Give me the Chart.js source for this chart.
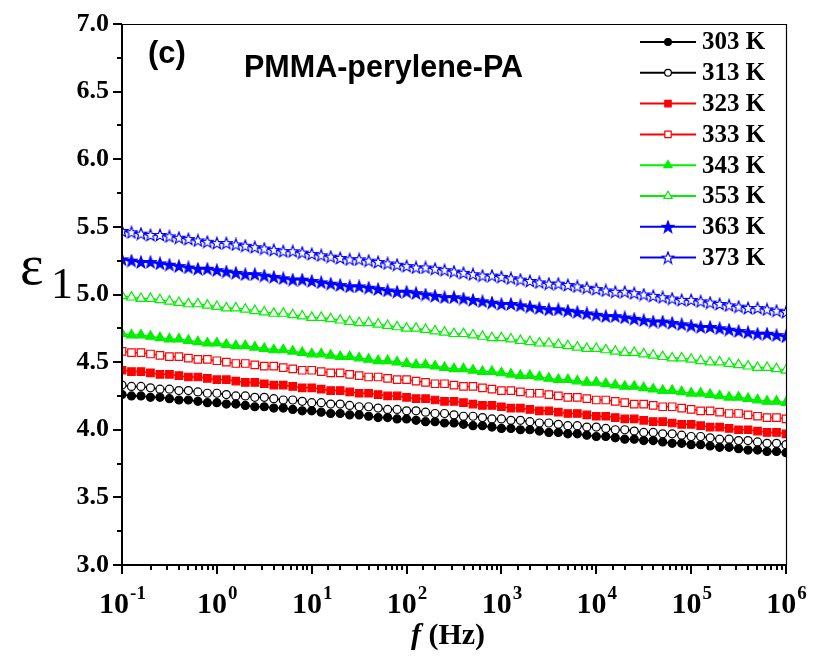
<!DOCTYPE html>
<html>
<head>
<meta charset="utf-8">
<script src="https://cdn.jsdelivr.net/npm/chart.js@4/dist/chart.umd.min.js"></script>
<style>
  html, body { margin: 0; padding: 0; background: #fff; }
  #wrap { width: 813px; height: 657px; }
</style>
</head>
<body>
<div id="wrap"><canvas id="myChart" width="813" height="657"></canvas></div>
<script>
// frequency points (Hz), 10 per decade
const freq = [
    0.1, 0.1259, 0.1585, 0.1995, 0.2512, 0.3162, 0.3981, 0.5012, 0.631, 0.7943,
    1, 1.259, 1.585, 1.995, 2.512, 3.162, 3.981, 5.012, 6.31, 7.943,
    10, 12.59, 15.85, 19.95, 25.12, 31.62, 39.81, 50.12, 63.1, 79.43,
    100, 125.9, 158.5, 199.5, 251.2, 316.2, 398.1, 501.2, 631, 794.3,
    1000, 1259, 1585, 1995, 2512, 3162, 3981, 5012, 6310, 7943,
    1e4, 12590, 15850, 19950, 25120, 31620, 39810, 50120, 63100, 79430,
    1e5, 125900, 158500, 199500, 251200, 316200, 398100, 501200, 631000, 794300,
    1e6
];

const eps303 = [
    4.26, 4.25, 4.25, 4.24, 4.24, 4.23, 4.22, 4.22, 4.21, 4.20,
    4.20, 4.19, 4.19, 4.18, 4.17, 4.17, 4.16, 4.16, 4.15, 4.14,
    4.14, 4.13, 4.12, 4.12, 4.11, 4.11, 4.10, 4.09, 4.09, 4.08,
    4.08, 4.07, 4.06, 4.06, 4.05, 4.05, 4.04, 4.03, 4.03, 4.02,
    4.01, 4.01, 4.00, 4.00, 3.99, 3.98, 3.98, 3.97, 3.97, 3.96,
    3.95, 3.95, 3.94, 3.93, 3.93, 3.92, 3.92, 3.91, 3.90, 3.90,
    3.89, 3.89, 3.88, 3.87, 3.87, 3.86, 3.85, 3.85, 3.84, 3.84,
    3.83
];
const eps313 = [
    4.33, 4.32, 4.32, 4.31, 4.30, 4.30, 4.29, 4.29, 4.28, 4.27,
    4.27, 4.26, 4.25, 4.25, 4.24, 4.24, 4.23, 4.22, 4.22, 4.21,
    4.20, 4.20, 4.19, 4.19, 4.18, 4.17, 4.17, 4.16, 4.15, 4.15,
    4.14, 4.14, 4.13, 4.12, 4.12, 4.11, 4.10, 4.10, 4.09, 4.08,
    4.08, 4.07, 4.07, 4.06, 4.05, 4.05, 4.04, 4.03, 4.03, 4.02,
    4.02, 4.01, 4.00, 4.00, 3.99, 3.98, 3.98, 3.97, 3.97, 3.96,
    3.95, 3.95, 3.94, 3.93, 3.93, 3.92, 3.92, 3.91, 3.90, 3.90,
    3.89
];
const eps323 = [
    4.44, 4.43, 4.43, 4.42, 4.41, 4.41, 4.40, 4.39, 4.39, 4.38,
    4.37, 4.37, 4.36, 4.35, 4.35, 4.34, 4.33, 4.33, 4.32, 4.31,
    4.31, 4.30, 4.29, 4.29, 4.28, 4.27, 4.27, 4.26, 4.25, 4.25,
    4.24, 4.23, 4.23, 4.22, 4.21, 4.21, 4.20, 4.19, 4.18, 4.18,
    4.17, 4.16, 4.16, 4.15, 4.14, 4.14, 4.13, 4.12, 4.12, 4.11,
    4.10, 4.10, 4.09, 4.08, 4.08, 4.07, 4.06, 4.06, 4.05, 4.04,
    4.04, 4.03, 4.02, 4.02, 4.01, 4.00, 4.00, 3.99, 3.98, 3.98,
    3.97
];
const eps333 = [
    4.58, 4.57, 4.57, 4.56, 4.55, 4.54, 4.54, 4.53, 4.52, 4.52,
    4.51, 4.50, 4.49, 4.49, 4.48, 4.47, 4.47, 4.46, 4.45, 4.44,
    4.44, 4.43, 4.42, 4.42, 4.41, 4.40, 4.39, 4.39, 4.38, 4.37,
    4.37, 4.36, 4.35, 4.34, 4.34, 4.33, 4.32, 4.32, 4.31, 4.30,
    4.29, 4.29, 4.28, 4.27, 4.27, 4.26, 4.25, 4.24, 4.24, 4.23,
    4.22, 4.22, 4.21, 4.20, 4.19, 4.19, 4.18, 4.17, 4.17, 4.16,
    4.15, 4.14, 4.14, 4.13, 4.12, 4.12, 4.11, 4.10, 4.09, 4.09,
    4.08
];
const eps343 = [
    4.71, 4.70, 4.70, 4.69, 4.68, 4.67, 4.67, 4.66, 4.65, 4.64,
    4.64, 4.63, 4.62, 4.62, 4.61, 4.60, 4.59, 4.59, 4.58, 4.57,
    4.56, 4.56, 4.55, 4.54, 4.54, 4.53, 4.52, 4.51, 4.51, 4.50,
    4.49, 4.48, 4.48, 4.47, 4.46, 4.45, 4.45, 4.44, 4.43, 4.43,
    4.42, 4.41, 4.40, 4.40, 4.39, 4.38, 4.37, 4.37, 4.36, 4.35,
    4.35, 4.34, 4.33, 4.32, 4.32, 4.31, 4.30, 4.29, 4.29, 4.28,
    4.27, 4.27, 4.26, 4.25, 4.24, 4.24, 4.23, 4.22, 4.21, 4.21,
    4.20
];
const eps353 = [
    4.99, 4.98, 4.97, 4.97, 4.96, 4.95, 4.94, 4.93, 4.93, 4.92,
    4.91, 4.90, 4.90, 4.89, 4.88, 4.87, 4.86, 4.86, 4.85, 4.84,
    4.83, 4.83, 4.82, 4.81, 4.80, 4.79, 4.79, 4.78, 4.77, 4.76,
    4.75, 4.75, 4.74, 4.73, 4.72, 4.71, 4.71, 4.70, 4.69, 4.68,
    4.68, 4.67, 4.66, 4.65, 4.64, 4.64, 4.63, 4.62, 4.61, 4.60,
    4.60, 4.59, 4.58, 4.57, 4.57, 4.56, 4.55, 4.54, 4.53, 4.53,
    4.52, 4.51, 4.50, 4.50, 4.49, 4.48, 4.47, 4.46, 4.46, 4.45,
    4.44
];
const eps363 = [
    5.26, 5.25, 5.24, 5.24, 5.23, 5.22, 5.21, 5.20, 5.19, 5.19,
    5.18, 5.17, 5.16, 5.15, 5.15, 5.14, 5.13, 5.12, 5.11, 5.11,
    5.10, 5.09, 5.08, 5.07, 5.06, 5.06, 5.05, 5.04, 5.03, 5.02,
    5.02, 5.01, 5.00, 4.99, 4.98, 4.98, 4.97, 4.96, 4.95, 4.94,
    4.93, 4.93, 4.92, 4.91, 4.90, 4.89, 4.89, 4.88, 4.87, 4.86,
    4.85, 4.84, 4.84, 4.83, 4.82, 4.81, 4.80, 4.80, 4.79, 4.78,
    4.77, 4.76, 4.76, 4.75, 4.74, 4.73, 4.72, 4.71, 4.71, 4.70,
    4.69
];
const eps373 = [
    5.47, 5.46, 5.45, 5.44, 5.44, 5.43, 5.42, 5.41, 5.40, 5.39,
    5.38, 5.38, 5.37, 5.36, 5.35, 5.34, 5.33, 5.32, 5.32, 5.31,
    5.30, 5.29, 5.28, 5.27, 5.26, 5.26, 5.25, 5.24, 5.23, 5.22,
    5.21, 5.20, 5.20, 5.19, 5.18, 5.17, 5.16, 5.15, 5.14, 5.14,
    5.13, 5.12, 5.11, 5.10, 5.09, 5.08, 5.08, 5.07, 5.06, 5.05,
    5.04, 5.03, 5.02, 5.02, 5.01, 5.00, 4.99, 4.98, 4.97, 4.96,
    4.96, 4.95, 4.94, 4.93, 4.92, 4.91, 4.90, 4.90, 4.89, 4.88,
    4.87
];

const seriesNames = ['303 K', '313 K', '323 K', '333 K', '343 K', '353 K', '363 K', '373 K'];
const seriesValues = [eps303, eps313, eps323, eps333, eps343, eps353, eps363, eps373];
const decades = [-1, 0, 1, 2, 3, 4, 5, 6];

//5-point star markers as small canvases
function makeStar(fill, stroke) {
    let c = document.createElement('canvas');
    c.width = 14;
    c.height = 14;
    let g = c.getContext('2d');
    g.beginPath();
    for (let i = 0; i < 10; i++) {
        let r = i % 2 === 0 ? 6.2 : 2.6;
        let a = -Math.PI / 2 + i * Math.PI / 5;
        let px = 7 + r * Math.cos(a), py = 7.5 + r * Math.sin(a);
        if (i === 0) g.moveTo(px, py); else g.lineTo(px, py);
    }
    g.closePath();
    g.fillStyle = fill;
    g.fill();
    g.lineWidth = 1.2;
    g.strokeStyle = stroke;
    g.stroke();
    return c;
}
const starFilled = makeStar('#0000ff', '#0000ff');
const starOpen = makeStar('#ffffff', '#0000ff');

const styles = [
    {color: '#000000', fill: '#000000', point: 'circle', radius: 4},
    {color: '#000000', fill: '#ffffff', point: 'circle', radius: 4},
    {color: '#ff0000', fill: '#ff0000', point: 'rect', radius: 5.3},
    {color: '#ff0000', fill: '#ffffff', point: 'rect', radius: 5.3},
    {color: '#00f000', fill: '#00f000', point: 'triangle', radius: 5.6},
    {color: '#00f000', fill: '#ffffff', point: 'triangle', radius: 5.6},
    {color: '#0000ff', fill: '#0000ff', point: starFilled, radius: 6},
    {color: '#0000ff', fill: '#ffffff', point: starOpen, radius: 6}
];

//Axes, frame and texts
const decorations = {
    id: 'decorations',
    afterDraw(chart) {
        const {ctx, chartArea: a, scales: {x, y}} = chart;
        ctx.save();
        ctx.strokeStyle = '#000';
        ctx.fillStyle = '#000';
        //frame
        ctx.lineWidth = 1.2;
        ctx.beginPath();
        ctx.moveTo(a.left, a.top + 0.5);
        ctx.lineTo(a.right + 0.5, a.top + 0.5);
        ctx.lineTo(a.right + 0.5, a.bottom);
        ctx.stroke();
        ctx.lineWidth = 2;
        ctx.beginPath();
        ctx.moveTo(a.left, a.top);
        ctx.lineTo(a.left, a.bottom);
        ctx.lineTo(a.right + 1, a.bottom);
        ctx.stroke();
        //y ticks
        y.ticks.forEach(t => {
            let py = Math.round(y.getPixelForValue(t.value));
            let major = Math.abs(t.value * 2 - Math.round(t.value * 2)) < 1e-6;
            ctx.beginPath();
            ctx.moveTo(a.left, py);
            ctx.lineTo(a.left - (major ? 9 : 5), py);
            ctx.stroke();
        });
        //x ticks
        x.ticks.forEach(t => {
            let px = Math.round(x.getPixelForValue(t.value));
            let lg = Math.log10(t.value);
            let major = Math.abs(lg - Math.round(lg)) < 1e-6;
            ctx.beginPath();
            ctx.moveTo(px, a.bottom);
            ctx.lineTo(px, a.bottom + (major ? 9 : 5));
            ctx.stroke();
        });
        //x tick labels 10^n
        ctx.textBaseline = 'alphabetic';
        decades.forEach(e => {
            let px = x.getPixelForValue(Math.pow(10, e));
            ctx.font = 'bold 30px "Liberation Serif"';
            let w1 = ctx.measureText('10').width;
            ctx.font = 'bold 19px "Liberation Serif"';
            let w2 = ctx.measureText(String(e)).width;
            let sx = px - (w1 + w2) / 2;
            ctx.font = 'bold 30px "Liberation Serif"';
            ctx.fillText('10', sx, 613);
            ctx.font = 'bold 19px "Liberation Serif"';
            ctx.fillText(String(e), sx + w1 + 1, 599);
        });
        //x title
        ctx.font = 'italic bold 30px "Liberation Serif"';
        let wf = ctx.measureText('f').width;
        ctx.font = 'bold 30px "Liberation Serif"';
        let wh = ctx.measureText(' (Hz)').width;
        let tx = 448 - (wf + wh) / 2;
        ctx.font = 'italic bold 30px "Liberation Serif"';
        ctx.fillText('f', tx, 644);
        ctx.font = 'bold 30px "Liberation Serif"';
        ctx.fillText(' (Hz)', tx + wf, 644);
        //y title
        ctx.font = '56px "Liberation Serif"';
        ctx.fillText('ε', 20, 284);
        ctx.font = '44px "Liberation Serif"';
        ctx.fillText('1', 51, 298);
        //annotations
        ctx.font = 'bold 31px "Liberation Sans"';
        ctx.fillText('(c)', 148, 63);
        ctx.font = 'bold 30.5px "Liberation Sans"';
        ctx.fillText('PMMA-perylene-PA', 244, 77);
        //legend
        chart.data.datasets.forEach((ds, i) => {
            let ly = 42 + i * 30.8;
            ctx.strokeStyle = ds.borderColor;
            ctx.lineWidth = 2;
            ctx.beginPath();
            ctx.moveTo(640, ly);
            ctx.lineTo(696, ly);
            ctx.stroke();
            drawMarker(ctx, ds, 668, ly);
            ctx.fillStyle = '#000';
            ctx.font = 'bold 25px "Liberation Serif"';
            ctx.textBaseline = 'middle';
            ctx.fillText(ds.label, 702, ly + 1);
        });
        ctx.restore();
    }
};

function drawMarker(ctx, ds, mx, my) {
    let ps = ds.pointStyle;
    if (typeof ps !== 'string') {
        ctx.drawImage(ps, mx - ps.width / 2, my - ps.height / 2);
        return;
    }
    let r = ds.pointRadius * 0.85;
    ctx.fillStyle = ds.pointBackgroundColor;
    ctx.strokeStyle = ds.pointBorderColor;
    ctx.lineWidth = 1.2;
    ctx.beginPath();
    if (ps === 'circle') {
        ctx.arc(mx, my, r, 0, Math.PI * 2);
    } else if (ps === 'rect') {
        let s = r * Math.SQRT1_2;
        ctx.rect(mx - s, my - s, 2 * s, 2 * s);
    } else {
        ctx.moveTo(mx, my - r);
        ctx.lineTo(mx + r * 0.87, my + r * 0.5);
        ctx.lineTo(mx - r * 0.87, my + r * 0.5);
        ctx.closePath();
    }
    ctx.fill();
    ctx.stroke();
}

function loadChart() {
    let ctx = document.getElementById('myChart');
    let datasets = seriesValues.map((vals, i) => {
        return {
            label: seriesNames[i],
            data: vals,
            borderColor: styles[i].color,
            borderWidth: 1.5,
            pointStyle: styles[i].point,
            pointRadius: styles[i].radius,
            pointBackgroundColor: styles[i].fill,
            pointBorderColor: styles[i].color,
            pointBorderWidth: 1.2,
            tension: 0
        };
    });
    new Chart(ctx, {
        type: 'line',
        data: {
            labels: freq,
            datasets: datasets
        },
        options: {
            responsive: false,
            animation: false,
            layout: {padding: {top: 24, right: 27, left: 0, bottom: 0}},
            plugins: {
                legend: {display: false},
                tooltip: {enabled: false}
            },
            scales: {
                x: {
                    type: 'logarithmic',
                    min: 0.1,
                    max: 1e6,
                    ticks: {display: false},
                    grid: {display: false, drawTicks: false},
                    border: {display: false},
                    afterFit: function (s) {
                        s.height = 92;
                        s.paddingLeft = 0;
                        s.paddingRight = 0;
                    }
                },
                y: {
                    min: 3,
                    max: 7,
                    ticks: {
                        stepSize: 0.25,
                        autoSkip: false,
                        padding: 13,
                        color: '#000',
                        font: {family: 'Liberation Serif', weight: 'bold', size: 26},
                        callback: function (v) {
                            return Math.abs(v * 2 - Math.round(v * 2)) < 1e-6 ? v.toFixed(1) : '';
                        }
                    },
                    grid: {display: false, drawTicks: false},
                    border: {display: false},
                    afterFit: function (s) {
                        s.width = 122;
                        s.paddingTop = 0;
                        s.paddingBottom = 0;
                    }
                }
            }
        },
        plugins: [decorations]
    });
}

loadChart();
</script>
</body>
</html>
